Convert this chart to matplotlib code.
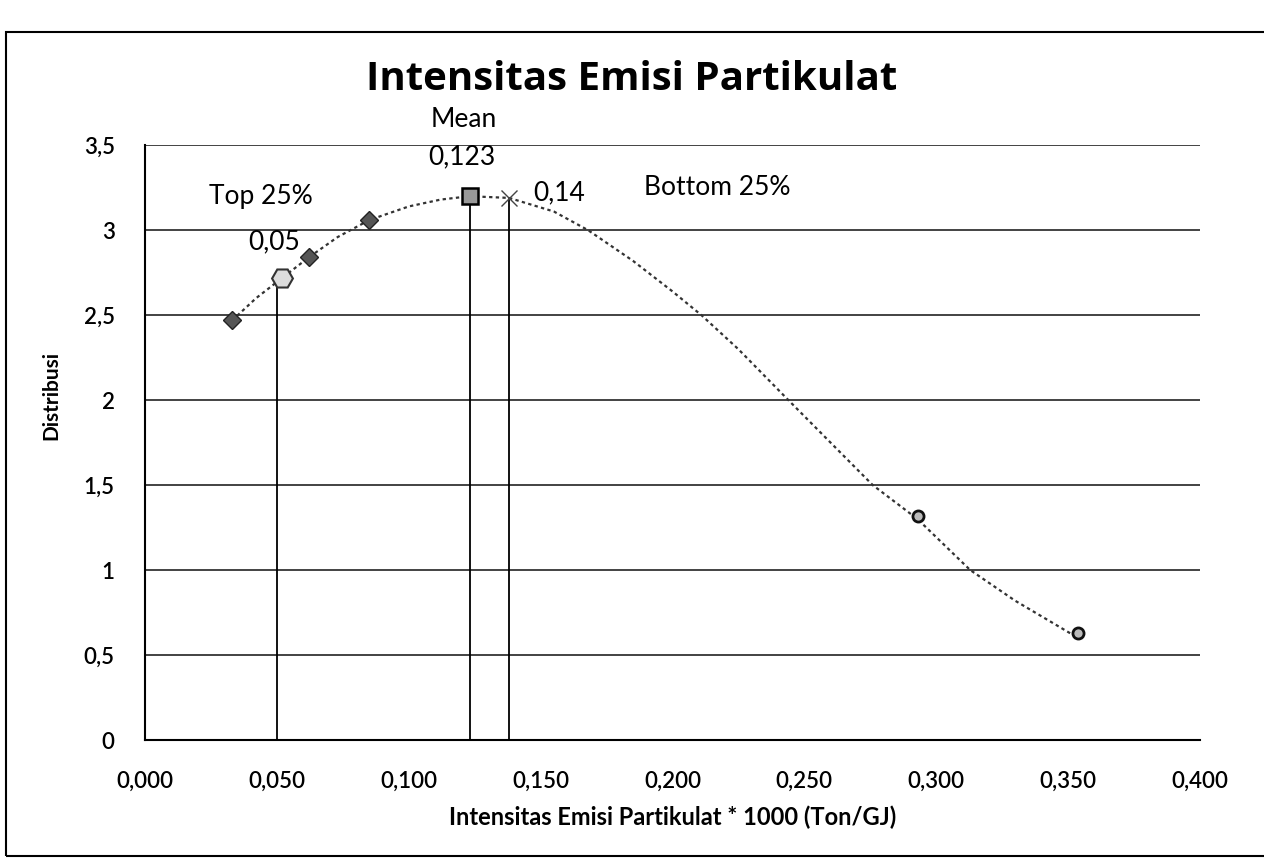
import numpy as np
import matplotlib
matplotlib.use('Agg')
from matplotlib import pyplot as plt
from matplotlib.patches import Rectangle

# marker points
pt_x = [0.033, 0.052, 0.062, 0.085, 0.123, 0.138, 0.293, 0.354]
pt_y = [2.47, 2.72, 2.84, 3.06, 3.20, 3.19, 1.32, 0.63]
pt_marker = ['D', 'o', 'D', 'D', 's', 'x', 'o', 'o']

# points along the dotted curve
curve_x = [0.033, 0.042, 0.052, 0.062, 0.073, 0.085, 0.100, 0.112, 0.123, 0.138,
           0.155, 0.168, 0.185, 0.200, 0.211, 0.225, 0.244, 0.260, 0.276, 0.293,
           0.313, 0.330, 0.354]
curve_y = [2.47, 2.60, 2.72, 2.84, 2.96, 3.06, 3.14, 3.18, 3.20, 3.19,
           3.11, 3.00, 2.82, 2.64, 2.50, 2.30, 2.00, 1.75, 1.50, 1.30,
           1.00, 0.82, 0.60]

# vertical reference lines: Top 25%, Mean, Bottom 25%
ref_x = [0.05, 0.123, 0.138]
ref_y = [2.72, 3.20, 3.19]

x_ticks = [0.0, 0.05, 0.10, 0.15, 0.20, 0.25, 0.30, 0.35, 0.40]
y_ticks = [0, 0.5, 1, 1.5, 2, 2.5, 3, 3.5]

plt.rcParams['font.family'] = ['Lato', 'DejaVu Sans']

fig = plt.figure(figsize=(12.64, 8.65), dpi=100)
fig.patches.append(Rectangle((0.005, 0.01), 1.2, 0.953, transform=fig.transFigure,
                             fill=False, edgecolor='black', linewidth=1.5))
ax = fig.add_axes([0.115, 0.1445, 0.834, 0.6876])

for y in y_ticks[1:]:
    ax.axhline(y, color='#222222', linewidth=1.2, zorder=1)

ax.vlines(ref_x, 0, ref_y, color='black', linewidth=1.3, zorder=2)
ax.plot(curve_x, curve_y, linestyle=(0, (1.5, 1.5)), color='#333333', linewidth=1.6, zorder=3)

for x, y, m in zip(pt_x, pt_y, pt_marker):
    if m == 'x':
        ax.plot(x, y, marker='x', markersize=11, color='#444444', markeredgewidth=1.0, zorder=4)
    elif m == 's':
        ax.plot(x, y, marker='s', markersize=11, markerfacecolor='#999999',
                markeredgecolor='black', markeredgewidth=1.8, zorder=4)
    elif m == 'o' and x < 0.1:
        ax.plot(x, y, marker='H', markersize=15, markerfacecolor='#dddddd',
                markeredgecolor='#333333', markeredgewidth=1.5, zorder=4)
    elif m == 'o':
        ax.plot(x, y, marker='o', markersize=8, markerfacecolor='#bbbbbb',
                markeredgecolor='#111111', markeredgewidth=2.0, zorder=4)
    else:
        ax.plot(x, y, marker='D', markersize=9, markerfacecolor='#555555',
                markeredgecolor='#222222', markeredgewidth=1.0, zorder=4)

fs = 19
ax.text(0.044, 3.2, 'Top 25%', fontsize=fs, ha='center', va='center')
ax.text(0.049, 2.93, '0,05', fontsize=fs, ha='center', va='center')
ax.text(0.121, 3.65, 'Mean', fontsize=fs, ha='center', va='center', clip_on=False)
ax.text(0.120, 3.43, '0,123', fontsize=fs, ha='center', va='center')
ax.text(0.157, 3.22, '0,14', fontsize=fs, ha='center', va='center')
ax.text(0.217, 3.25, 'Bottom 25%', fontsize=fs, ha='center', va='center')

ax.set_xlim(0, 0.4)
ax.set_ylim(0, 3.5)
ax.set_xticks(x_ticks)
ax.set_xticklabels(['{:.3f}'.format(v).replace('.', ',') for v in x_ticks])
ax.set_yticks(y_ticks)
ax.set_yticklabels(['{:g}'.format(v).replace('.', ',') for v in y_ticks])
ax.tick_params(length=0, labelsize=16, pad=22)
for lbl in ax.get_xticklabels() + ax.get_yticklabels():
    lbl.set_fontweight('semibold')

ax.spines['right'].set_visible(False)
ax.spines['top'].set_visible(False)
ax.spines['left'].set_linewidth(1.5)
ax.spines['bottom'].set_linewidth(1.5)

ax.set_xlabel('Intensitas Emisi Partikulat * 1000 (Ton/GJ)', fontsize=17, fontweight='bold', labelpad=10)
ax.set_ylabel('Distribusi', fontsize=15, fontweight='bold')
ax.yaxis.set_label_coords(-0.08, 0.58)
fig.text(0.5, 0.908, 'Intensitas Emisi Partikulat', fontsize=29, fontweight='bold',
         family=['Open Sans', 'DejaVu Sans'], ha='center', va='center')

fig.savefig('out.png', dpi=100, facecolor='white')
